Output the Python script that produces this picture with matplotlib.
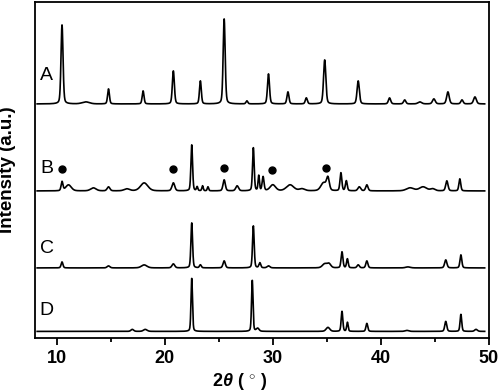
import matplotlib
matplotlib.use('Agg')
import matplotlib.pyplot as plt
from matplotlib.ticker import MultipleLocator
import numpy as np

plt.rcParams['font.family'] = ['Liberation Sans', 'DejaVu Sans']
plt.rcParams['mathtext.fontset'] = 'custom'
plt.rcParams['mathtext.rm'] = 'Liberation Sans:bold'
plt.rcParams['mathtext.it'] = 'Liberation Sans:bold:italic'

# peak lists (2theta, height above baseline)
A_pos = [10.5, 12.7, 14.8, 18.0, 20.8, 23.3, 25.5, 27.6, 29.6, 31.4, 33.1,
         34.8, 37.9, 40.8, 42.2, 43.6, 44.9, 46.2, 47.5, 48.7]
A_h = [79, 2, 15, 13, 33, 23, 85, 3, 30, 12, 6, 44, 23, 6, 4, 2, 5, 12, 4, 7]
A_w = [0.22, 0.8, 0.2, 0.2, 0.22, 0.2, 0.22, 0.2, 0.22, 0.22, 0.22,
       0.25, 0.25, 0.25, 0.25, 0.4, 0.3, 0.28, 0.25, 0.3]

B_pos = [10.5, 11.1, 13.4, 14.8, 16.5, 18.1, 20.8, 22.5, 23.0, 23.5, 24.0,
         25.5, 26.7, 28.2, 28.7, 29.1, 30.0, 31.6, 32.7, 34.7, 35.1, 36.3,
         36.8, 38.0, 38.7, 42.7, 43.9, 44.8, 46.1, 47.3]
B_h = [9, 6, 3, 4, 2, 8, 8, 46, 4, 5, 4, 11, 5, 43, 15, 14, 6, 6, 2, 8, 12,
       18, 10, 4, 6, 3, 4, 2, 10, 12]
B_w = [0.2, 0.6, 0.6, 0.3, 0.6, 0.8, 0.3, 0.18, 0.15, 0.15, 0.15, 0.25, 0.3,
       0.18, 0.15, 0.2, 0.6, 0.8, 0.6, 0.6, 0.3, 0.2, 0.2, 0.3, 0.25, 0.8,
       0.8, 0.5, 0.25, 0.2]

C_pos = [10.5, 14.8, 18.1, 20.8, 22.5, 23.3, 25.5, 28.2, 28.8, 29.6, 34.8,
         35.2, 36.4, 36.9, 37.9, 38.7, 42.5, 46.0, 47.4]
C_h = [6, 2, 3, 4, 45, 3, 7, 42, 5, 2, 4, 4, 16, 9, 3, 7, 1, 8, 13]
C_w = [0.2, 0.3, 0.6, 0.3, 0.18, 0.2, 0.25, 0.18, 0.2, 0.3, 0.5, 0.4, 0.2,
       0.18, 0.25, 0.22, 0.5, 0.25, 0.2]

D_pos = [17.0, 18.2, 22.5, 28.1, 28.6, 35.1, 36.4, 36.9, 38.7, 42.4, 46.0,
         47.4, 48.8]
D_h = [2, 2, 53, 51, 3, 4, 20, 9, 8, 1, 10, 17, 2]
D_w = [0.3, 0.4, 0.16, 0.16, 0.3, 0.4, 0.18, 0.16, 0.2, 0.4, 0.22, 0.18, 0.3]

offsets = [234, 147, 70, 6.5]
names = ['A', 'B', 'C', 'D']
label_y = [262.5, 169.5, 89, 27]

# marked reflections in pattern B
dot_x = [10.5, 20.8, 25.5, 29.9, 34.9]
dot_y = [169, 169, 170, 168, 170]

x = np.arange(8.2, 49.6, 0.01)


def pattern(pos, h, w):
    y = np.zeros_like(x)
    for p, a, fw in zip(pos, h, w):
        g = np.exp(-4 * np.log(2) * ((x - p) / fw) ** 2)
        l = 1 / (1 + 4 * ((x - p) / fw) ** 2)
        y += a * (0.7 * g + 0.3 * l)
    return y


fig = plt.figure(figsize=(5.0, 3.92), dpi=100)
ax = fig.add_axes([0.07, 0.138, 0.908, 0.857])

series = [(A_pos, A_h, A_w), (B_pos, B_h, B_w), (C_pos, C_h, C_w), (D_pos, D_h, D_w)]
for (pos, h, w), off, nm, ly in zip(series, offsets, names, label_y):
    ax.plot(x, pattern(pos, h, w) + off, color='black', lw=1.2)
    ax.text(9.1, ly, nm, ha='center', va='center', fontsize=14)

ax.plot(dot_x, dot_y, 'o', color='black', markersize=5)

ax.set_xlim(8, 50)
ax.set_ylim(0, 336)
ax.set_yticks([])
ax.xaxis.set_major_locator(MultipleLocator(10))
ax.xaxis.set_minor_locator(MultipleLocator(5))
ax.tick_params(axis='x', which='major', direction='out', length=5, width=1.3)
ax.tick_params(axis='x', which='minor', direction='out', length=3, width=1.3)
for lab in ax.get_xticklabels():
    lab.set_fontweight('bold')
    lab.set_fontsize(13)
for s in ax.spines.values():
    s.set_linewidth(1.3)

ax.set_xlabel(r'2$\theta$ ( $^{\circ}$ )', fontsize=13, fontweight='bold')
ax.xaxis.set_label_coords(0.45, -0.1)
ax.set_ylabel('Intensity (a.u.)', fontsize=13.5, fontweight='bold')
ax.yaxis.set_label_coords(-0.042, 0.5)

fig.savefig('out.png', dpi=100)
